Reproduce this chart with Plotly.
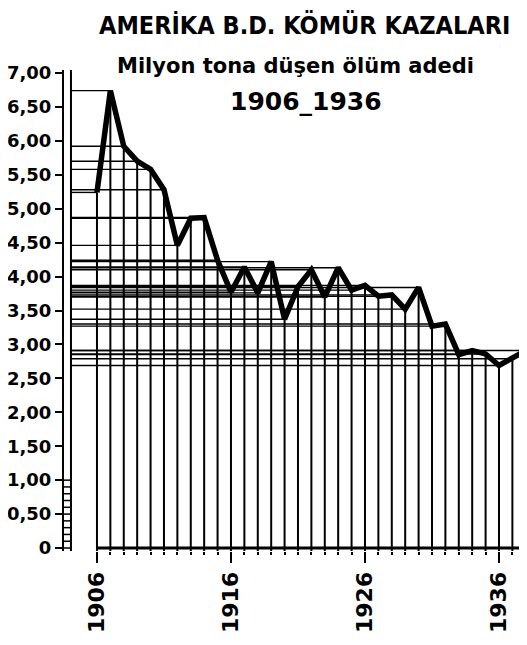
import plotly.graph_objects as go

# ---- data ----
years = list(range(1906, 1939))
deaths_per_mt = [5.24, 6.74, 5.92, 5.70, 5.58, 5.28, 4.46, 4.86, 4.87, 4.24,
                 3.77, 4.14, 3.76, 4.22, 3.37, 3.85, 4.10, 3.70, 4.13, 3.80,
                 3.87, 3.71, 3.73, 3.52, 3.84, 3.27, 3.30, 2.85, 2.91, 2.86,
                 2.69, 2.79, 2.91]
ytick_vals = [0, 0.5, 1, 1.5, 2, 2.5, 3, 3.5, 4, 4.5, 5, 5.5, 6, 6.5, 7]
ytick_text = ["0", "0,50", "1,00", "1,50", "2,00", "2,50", "3,00", "3,50",
              "4,00", "4,50", "5,00", "5,50", "6,00", "6,50", "7,00"]
xtick_vals = [1906, 1916, 1926, 1936]
xtick_text = ["1906", "1916", "1926", "1936"]

# ---- layout geometry (page has an 8px body margin) ----
X_MIN, X_MAX = 1903.54, 1938.09
Y_MIN, Y_MAX = -0.044, 7.044
AXIS2_X = 1904.06  # inner line of the double y axis

fig = go.Figure()

# horizontal guide lines from the axis to each point
hx, hy = [], []
for yr, v in zip(years, deaths_per_mt):
    hx += [AXIS2_X, yr, None]
    hy += [v, v, None]
fig.add_trace(go.Scatter(x=hx, y=hy, mode="lines",
                         line=dict(color="black", width=1.4),
                         hoverinfo="skip", showlegend=False))

# vertical drop lines from each point to the base
vx, vy = [], []
for yr, v in zip(years, deaths_per_mt):
    vx += [yr, yr, None]
    vy += [Y_MIN, v, None]
fig.add_trace(go.Scatter(x=vx, y=vy, mode="lines",
                         line=dict(color="black", width=2),
                         hoverinfo="skip", showlegend=False))

# ladder between the double y-axis lines (0 to 1.00)
lx, ly = [], []
for i in range(11):
    r = i / 10
    lx += [X_MIN, AXIS2_X, None]
    ly += [r, r, None]
fig.add_trace(go.Scatter(x=lx, y=ly, mode="lines",
                         line=dict(color="black", width=1.5),
                         hoverinfo="skip", showlegend=False))

# main series
fig.add_trace(go.Scatter(x=years, y=deaths_per_mt, mode="lines",
                         line=dict(color="black", width=5.5),
                         showlegend=False))

# axis lines drawn as shapes
fig.add_shape(type="line", x0=AXIS2_X, x1=AXIS2_X, y0=Y_MIN, y1=Y_MAX,
              line=dict(color="black", width=2), xref="x", yref="y")
fig.add_shape(type="line", x0=years[0], x1=X_MAX, y0=0, y1=0,
              line=dict(color="black", width=3), xref="x", yref="y")

fig.add_annotation(text="<b>AMERİKA B.D. KÖMÜR KAZALARI</b>", xref="paper", yref="paper",
                   x=0.52, y=1.094, showarrow=False, xanchor="center", yanchor="middle",
                   font=dict(family="DejaVu Sans Condensed, sans-serif", size=25, color="black"))
fig.add_annotation(text="<b>Milyon tona düşen ölüm adedi</b>", xref="paper", yref="paper",
                   x=0.501, y=1.008, showarrow=False, xanchor="center", yanchor="middle",
                   font=dict(family="DejaVu Sans, sans-serif", size=21, color="black"))
fig.add_annotation(text="<b>1906_1936</b>", xref="paper", yref="paper",
                   x=0.523, y=0.935, showarrow=False, xanchor="center", yanchor="middle",
                   font=dict(family="DejaVu Sans, sans-serif", size=25, color="black"))

fig.update_layout(
    width=519, height=637,
    margin=dict(l=56, r=0, t=62, b=94, autoexpand=False),
    paper_bgcolor="white", plot_bgcolor="white",
    font=dict(family="DejaVu Sans, sans-serif", color="black"),
    xaxis=dict(range=[X_MIN, X_MAX], showgrid=False, zeroline=False, showline=False,
               automargin=False,
               tickmode="array", tickvals=xtick_vals, ticktext=xtick_text,
               ticks="outside", ticklen=11, tickwidth=2, tickcolor="black",
               tickangle=-90,
               tickfont=dict(size=22, family="DejaVu Sans", color="black", weight="bold"),
               minor=dict(tickvals=years, ticks="outside", ticklen=3, tickwidth=2,
                          tickcolor="black", showgrid=False)),
    yaxis=dict(range=[Y_MIN, Y_MAX], showgrid=False, zeroline=False, automargin=False,
               showline=True, linecolor="black", linewidth=2,
               tickmode="array", tickvals=ytick_vals, ticktext=ytick_text,
               ticks="outside", ticklen=7, tickwidth=2, tickcolor="black",
               tickfont=dict(size=18, family="DejaVu Sans", color="black", weight="bold")),
)

fig.write_html("out.html")
